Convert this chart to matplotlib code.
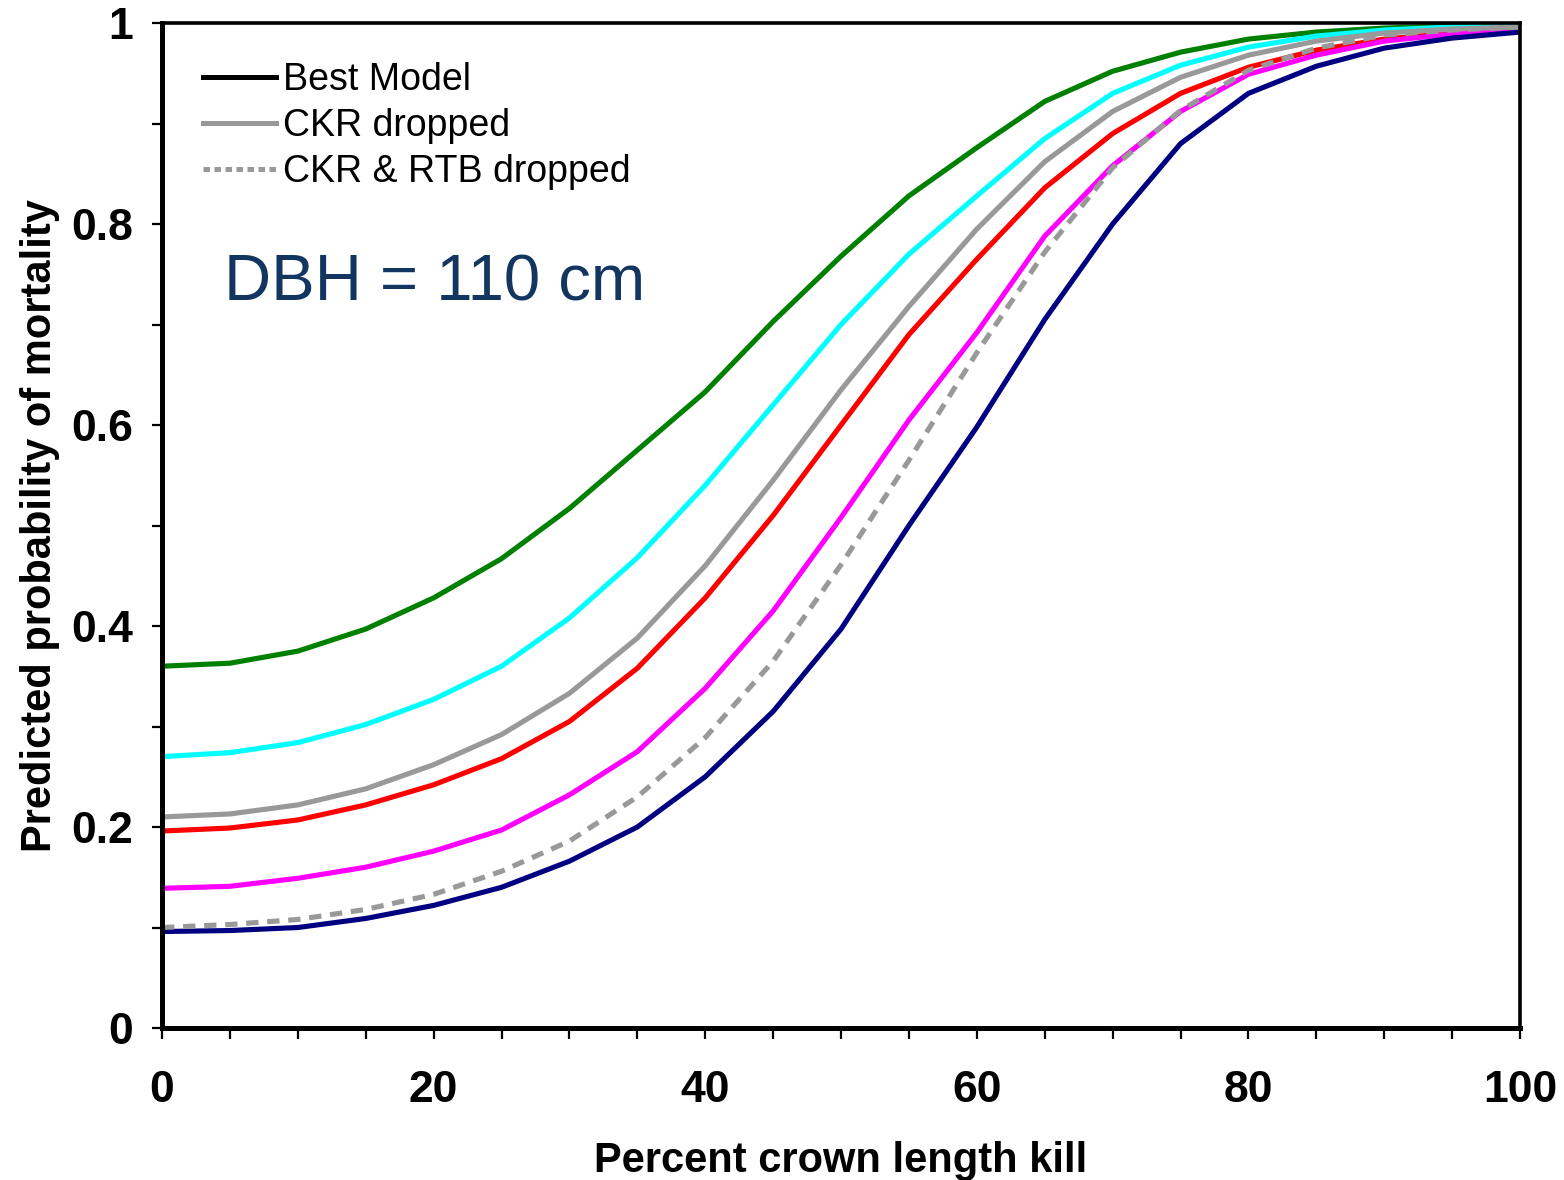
import matplotlib.pyplot as plt
from matplotlib.lines import Line2D
from matplotlib.ticker import MultipleLocator

plt.rcParams['font.family'] = ['Liberation Sans', 'DejaVu Sans']

# Percent crown length kill
crown_kill = [0, 5, 10, 15, 20, 25, 30, 35, 40, 45, 50,
              55, 60, 65, 70, 75, 80, 85, 90, 95, 100]

# Predicted probability of mortality for each curve
p_green = [0.360, 0.363, 0.375, 0.397, 0.428, 0.467, 0.517, 0.575, 0.633, 0.703, 0.768,
           0.828, 0.876, 0.922, 0.952, 0.971, 0.984, 0.991, 0.995, 0.997, 0.998]
p_cyan = [0.270, 0.274, 0.284, 0.302, 0.327, 0.360, 0.408, 0.468, 0.540, 0.620, 0.700,
          0.770, 0.828, 0.885, 0.930, 0.958, 0.976, 0.987, 0.993, 0.996, 0.997]
p_gray = [0.210, 0.213, 0.222, 0.238, 0.262, 0.292, 0.333, 0.388, 0.460, 0.545, 0.635,
          0.718, 0.795, 0.862, 0.912, 0.946, 0.968, 0.982, 0.990, 0.994, 0.996]
p_red = [0.196, 0.199, 0.207, 0.222, 0.242, 0.268, 0.305, 0.358, 0.428, 0.510, 0.600,
         0.690, 0.765, 0.836, 0.890, 0.930, 0.956, 0.973, 0.984, 0.990, 0.994]
p_magenta = [0.139, 0.141, 0.149, 0.160, 0.176, 0.197, 0.232, 0.275, 0.338, 0.415, 0.508,
             0.605, 0.692, 0.788, 0.858, 0.912, 0.949, 0.968, 0.982, 0.989, 0.993]
p_navy = [0.096, 0.097, 0.100, 0.109, 0.122, 0.140, 0.166, 0.200, 0.250, 0.315, 0.397,
          0.500, 0.598, 0.705, 0.800, 0.880, 0.930, 0.957, 0.975, 0.985, 0.991]
p_dashed = [0.100, 0.103, 0.108, 0.118, 0.133, 0.156, 0.186, 0.230, 0.289, 0.365, 0.461,
            0.565, 0.672, 0.772, 0.856, 0.913, 0.953, 0.975, 0.988, 0.993, 0.996]

fig = plt.figure(figsize=(15.64, 11.8), dpi=100)
ax = fig.add_axes([0.1036, 0.1288, 0.8683, 0.8517])

lw = 3.7
ax.plot(crown_kill, p_green, color='#008000', lw=lw)
ax.plot(crown_kill, p_cyan, color='#00FFFF', lw=lw)
ax.plot(crown_kill, p_red, color='#FF0000', lw=lw)
ax.plot(crown_kill, p_magenta, color='#FF00FF', lw=lw)
ax.plot(crown_kill, p_navy, color='#000080', lw=lw)
ax.plot(crown_kill, p_gray, color='#999999', lw=lw)
ax.plot(crown_kill, p_dashed, color='#999999', lw=lw, ls=(0, (2.4, 1.7)))

ax.set_xlim(0, 100)
ax.set_ylim(0, 1)

ax.xaxis.set_minor_locator(MultipleLocator(5))
ax.yaxis.set_minor_locator(MultipleLocator(0.1))
ax.set_xticks([0, 20, 40, 60, 80, 100])
ax.set_xticklabels(['0', '20', '40', '60', '80', '100'])
ax.set_yticks([0, 0.2, 0.4, 0.6, 0.8, 1])
ax.set_yticklabels(['0', '0.2', '0.4', '0.6', '0.8', '1'])

ax.tick_params(axis='both', which='both', direction='out', width=1.6, labelsize=32)
ax.tick_params(axis='x', which='both', length=8, pad=22)
ax.tick_params(axis='y', which='both', length=7, pad=14)
for lab in ax.get_xticklabels() + ax.get_yticklabels():
    lab.set_fontweight('bold')

for side in ['left', 'bottom']:
    ax.spines[side].set_linewidth(3.6)
for side in ['top', 'right']:
    ax.spines[side].set_linewidth(2.6)

ax.set_xlabel('Percent crown length kill', fontsize=30, fontweight='bold', labelpad=22)
ax.set_ylabel('Predicted probability of mortality', fontsize=30, fontweight='bold', labelpad=8)

ax.text(0.046, 0.724, 'DBH = 110 cm', transform=ax.transAxes, fontsize=47,
        color='#12365F', ha='left', va='baseline')

handles = [Line2D([], [], color='black', lw=3.6),
           Line2D([], [], color='#999999', lw=3.6),
           Line2D([], [], color='#999999', lw=3.6, ls=(0, (1.3, 0.9)))]
ax.legend(handles, ['Best Model', 'CKR dropped', 'CKR & RTB dropped'],
          loc='upper left', bbox_to_anchor=(0.03, 0.961), frameon=False,
          fontsize=27, handlelength=1.95, handletextpad=0.2, labelspacing=0.27,
          borderpad=0, borderaxespad=0)

plt.savefig('out.png', dpi=100)
